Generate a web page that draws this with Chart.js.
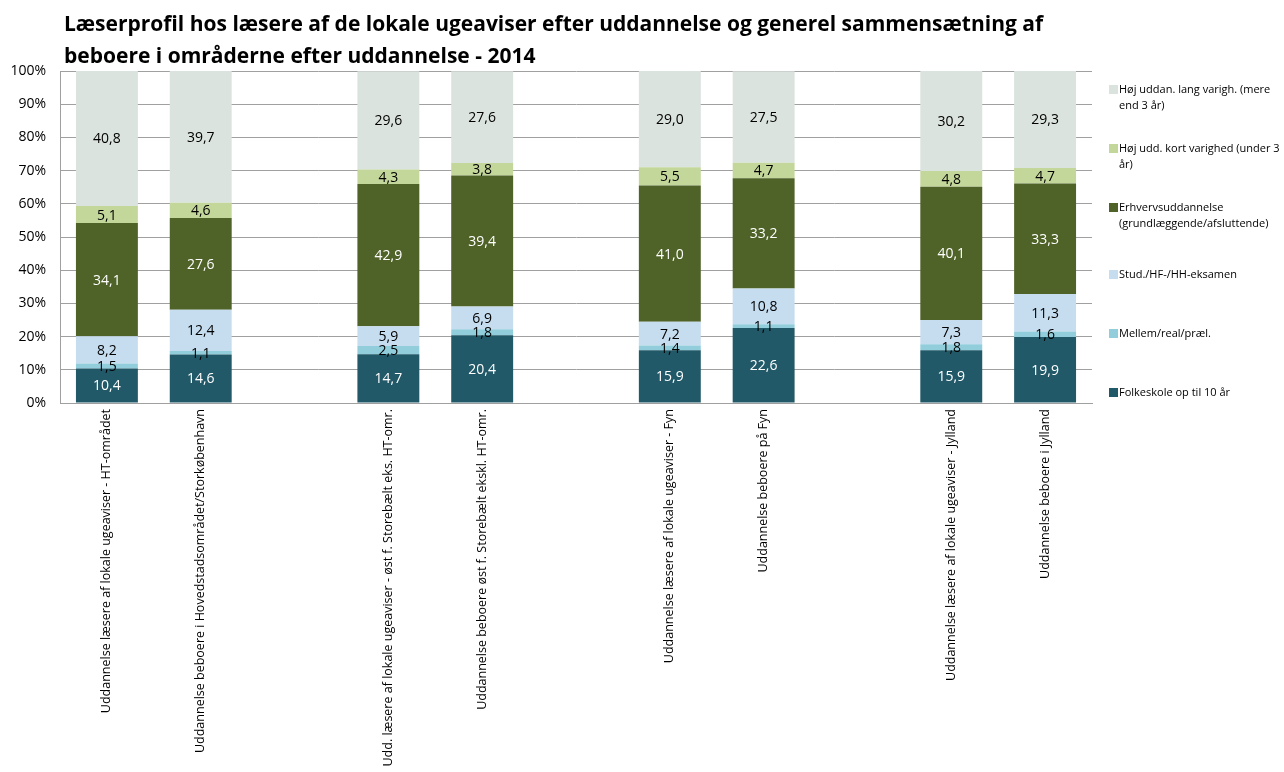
<!DOCTYPE html>
<html>
<head>
<meta charset="utf-8">
<title>Læserprofil 2014</title>
<script src="https://cdn.jsdelivr.net/npm/chart.js@4.4.0/dist/chart.umd.min.js"></script>
<style>
  html, body { margin: 0; padding: 0; background: #fff; }
  #chart { display: block; }
</style>
</head>
<body>
<canvas id="chart" width="1284" height="772"></canvas>
<script>
// Reader profile of local weeklies vs. residents, by education (2014)

const titleLines = [
    "Læserprofil hos læsere af de lokale ugeaviser efter uddannelse og generel sammensætning af",
    "beboere i områderne efter uddannelse - 2014"
];

// empty strings keep the gaps between the regional pairs
const categories = [
    "Uddannelse læsere af lokale ugeaviser - HT-området",
    "Uddannelse beboere i Hovedstadsområdet/Storkøbenhavn",
    "",
    "Udd. læsere af lokale ugeaviser - øst f. Storebælt eks. HT-omr.",
    "Uddannelse beboere øst f. Storebælt ekskl. HT-omr.",
    "",
    "Uddannelse læsere af lokale ugeaviser - Fyn",
    "Uddannelse beboere på Fyn",
    "",
    "Uddannelse læsere af lokale ugeaviser - Jylland",
    "Uddannelse beboere i Jylland"
];

const folkeskole = [10.4, 14.6, null, 14.7, 20.4, null, 15.9, 22.6, null, 15.9, 19.9];
const mellem     = [1.5, 1.1, null, 2.5, 1.8, null, 1.4, 1.1, null, 1.8, 1.6];
const stud       = [8.2, 12.4, null, 5.9, 6.9, null, 7.2, 10.8, null, 7.3, 11.3];
const erhverv    = [34.1, 27.6, null, 42.9, 39.4, null, 41.0, 33.2, null, 40.1, 33.3];
const hojKort    = [5.1, 4.6, null, 4.3, 3.8, null, 5.5, 4.7, null, 4.8, 4.7];
const hojLang    = [40.8, 39.7, null, 29.6, 27.6, null, 29.0, 27.5, null, 30.2, 29.3];

const yTicks = [0, 10, 20, 30, 40, 50, 60, 70, 80, 90, 100];

const FONT = "'Open Sans', sans-serif";

function series(label, data, color, labelColor) {
    return {
        label: label,
        data: data,
        backgroundColor: color,
        borderWidth: 0,
        labelColor: labelColor,
        categoryPercentage: 1.0,
        barPercentage: 0.66
    };
}

// value labels in the middle of each segment, decimal comma
const segmentLabels = {
    id: "segmentLabels",
    afterDatasetsDraw(chart) {
        const ctx = chart.ctx;
        ctx.save();
        ctx.font = "14px " + FONT;
        ctx.textAlign = "center";
        ctx.textBaseline = "middle";
        chart.data.datasets.forEach((ds, i) => {
            const meta = chart.getDatasetMeta(i);
            meta.data.forEach((bar, j) => {
                const v = ds.data[j];
                if (v == null) return;
                const p = bar.getProps(["x", "y", "base"], true);
                ctx.fillStyle = ds.labelColor;
                ctx.fillText(v.toFixed(1).replace(".", ","), p.x, (p.y + p.base) / 2 + 1);
            });
        });
        ctx.restore();
    }
};

// two-line title, left aligned over the plot
const titlePlugin = {
    id: "titleLines",
    afterDraw(chart) {
        const ctx = chart.ctx;
        ctx.save();
        ctx.font = "bold 21px " + FONT;
        ctx.fillStyle = "#000";
        ctx.textAlign = "left";
        ctx.textBaseline = "alphabetic";
        titleLines.forEach((t, i) => ctx.fillText(t, chart.chartArea.left + 4, 31 + i * 32));
        ctx.restore();
    }
};

// legend on the right, top series first, long names wrapped
const sideLegend = {
    id: "sideLegend",
    afterDraw(chart) {
        const ctx = chart.ctx;
        const area = chart.chartArea;
        const x0 = area.right + 17;
        const lineH = 16;
        const maxW = 172;
        ctx.save();
        ctx.font = "11px " + FONT;
        ctx.textBaseline = "middle";
        ctx.textAlign = "left";
        const items = chart.data.datasets.slice().reverse();
        items.forEach((ds, i) => {
            const words = ds.label.split(" ");
            const lines = [];
            let cur = "";
            words.forEach(w => {
                const test = cur ? cur + " " + w : w;
                if (ctx.measureText(test).width > maxW && cur) {
                    lines.push(cur);
                    cur = w;
                } else {
                    cur = test;
                }
            });
            lines.push(cur);
            const cy = area.top + 26.5 + i * 59;
            const firstY = cy - (lines.length - 1) * lineH / 2;
            ctx.fillStyle = ds.backgroundColor;
            ctx.fillRect(x0, firstY - 4.5, 9, 9);
            ctx.fillStyle = "#000";
            lines.forEach((l, k) => ctx.fillText(l, x0 + 10, firstY + k * lineH));
        });
        ctx.restore();
    }
};

const ctx = document.getElementById("chart").getContext("2d");
new Chart(ctx, {
    type: "bar",
    data: {
        labels: categories,
        datasets: [
            series("Folkeskole op til 10 år", folkeskole, "#215968", "#ffffff"),
            series("Mellem/real/præl.", mellem, "#92cddc", "#000000"),
            series("Stud./HF-/HH-eksamen", stud, "#c6ddf0", "#000000"),
            series("Erhvervsuddannelse (grundlæggende/afsluttende)", erhverv, "#4f6228", "#ffffff"),
            series("Høj udd. kort varighed (under 3 år)", hojKort, "#c4d79b", "#000000"),
            series("Høj uddan. lang varigh. (mere end 3 år)", hojLang, "#dae3dd", "#000000")
        ]
    },
    options: {
        responsive: false,
        animation: false,
        layout: { padding: { left: 0, top: 71, right: 192, bottom: 0 } },
        plugins: {
            legend: { display: false },
            title: { display: false },
            tooltip: { enabled: false }
        },
        scales: {
            x: {
                stacked: true,
                grid: { display: false, drawTicks: false },
                border: { display: true, color: "#a0a0a0", width: 1 },
                ticks: {
                    autoSkip: false,
                    maxRotation: 90,
                    minRotation: 90,
                    padding: 6,
                    color: "#000",
                    font: { family: FONT, size: 12.5 }
                },
                afterFit(scale) { scale.height = 369; }
            },
            y: {
                stacked: true,
                min: 0,
                max: 100,
                afterBuildTicks(scale) { scale.ticks = yTicks.map(v => ({ value: v })); },
                grid: { color: "#a0a0a0", drawTicks: false },
                border: { display: true, color: "#a0a0a0", width: 1 },
                ticks: {
                    padding: 14,
                    color: "#000",
                    font: { family: FONT, size: 14 },
                    callback: v => v + "%"
                },
                afterFit(scale) { scale.width = 60; }
            }
        }
    },
    plugins: [segmentLabels, titlePlugin, sideLegend]
});
</script>
</body>
</html>
